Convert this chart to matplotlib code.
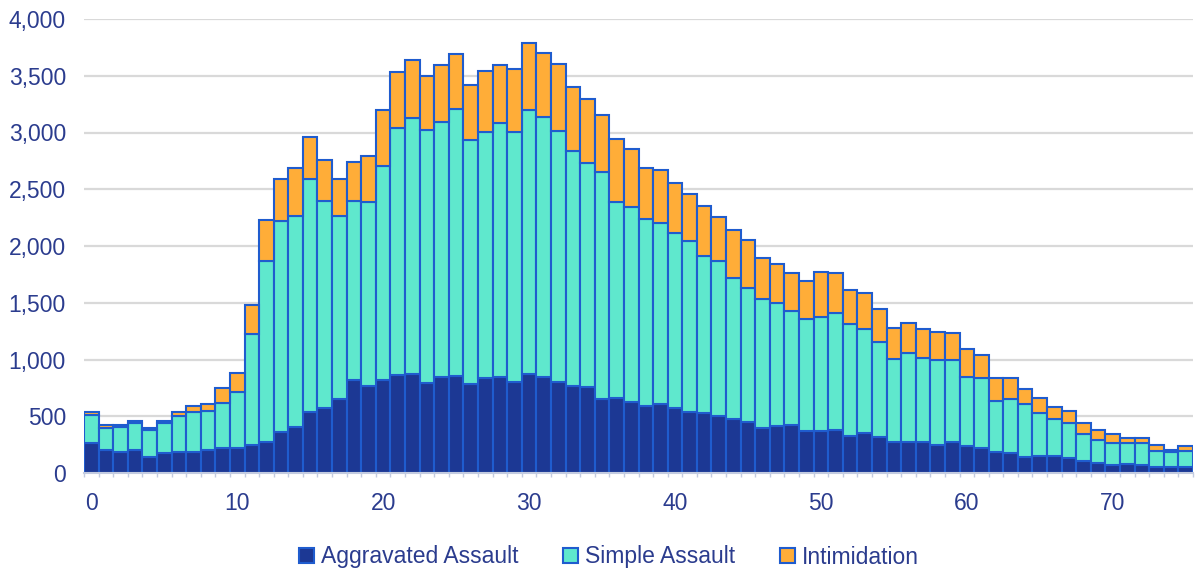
import matplotlib
matplotlib.use("Agg")
import matplotlib.pyplot as plt
from matplotlib.ticker import FuncFormatter, MultipleLocator
from matplotlib.patches import Patch
import numpy as np

ages = list(range(0, 76))

aggravated = [267, 203, 188, 203, 144, 173, 188, 188, 203, 217,
              217, 247, 276, 358, 408, 540, 570, 655, 819, 769,
              822, 863, 869, 790, 848, 855, 784, 840, 848, 802,
              875, 848, 805, 769, 760, 649, 658, 628, 590, 605,
              570, 535, 526, 505, 476, 446, 399, 414, 423, 373,
              373, 379, 329, 349, 320, 276, 270, 270, 247, 276,
              238, 217, 188, 173, 144, 153, 153, 129, 109, 85,
              70, 76, 70, 56, 50, 50]

simple = [244, 193, 220, 234, 235, 264, 314, 352, 346, 402,
          499, 978, 1592, 1865, 1856, 2047, 1829, 1609, 1577, 1621,
          1886, 2179, 2261, 2232, 2247, 2349, 2150, 2167, 2238, 2202,
          2323, 2291, 2211, 2068, 1968, 2005, 1732, 1718, 1648, 1595,
          1542, 1509, 1386, 1363, 1245, 1181, 1134, 1081, 1004, 981,
          1004, 1033, 984, 920, 831, 728, 785, 740, 749, 720,
          610, 617, 449, 482, 461, 378, 323, 314, 232, 206,
          197, 185, 191, 138, 132, 144]

intimidation = [26, 30, 12, 21, 20, 24, 35, 50, 59, 127,
                168, 258, 361, 367, 420, 370, 356, 329, 341, 403,
                490, 494, 509, 473, 500, 490, 484, 538, 506, 555,
                593, 564, 587, 561, 564, 500, 553, 506, 446, 470,
                443, 411, 440, 390, 420, 426, 364, 346, 332, 340,
                397, 353, 299, 320, 291, 271, 269, 256, 244, 235,
                242, 206, 197, 179, 132, 133, 108, 103, 97, 85,
                77, 50, 44, 53, 21, 44]

series_names = ["Aggravated Assault", "Simple Assault", "Intimidation"]
colors = ["#1c3894", "#5fe8cd", "#ffad38"]
edge = "#1f5cce"
text_color = "#2b3c8e"

plt.rcParams['font.family'] = ['Liberation Sans', 'DejaVu Sans']

fig = plt.figure(figsize=(11.96, 5.69), dpi=100)
ax = fig.add_axes([84 / 1196, 1 - 473 / 569, (1193 - 84) / 1196, (473 - 19) / 569])

x = np.array(ages)
a = np.array(aggravated)
s = np.array(simple)
i = np.array(intimidation)

ax.bar(x, a, width=1.0, color=colors[0], edgecolor=edge, linewidth=1.5, zorder=3)
ax.bar(x, s, width=1.0, bottom=a, color=colors[1], edgecolor=edge, linewidth=1.5, zorder=3)
ax.bar(x, i, width=1.0, bottom=a + s, color=colors[2], edgecolor=edge, linewidth=1.5, zorder=3)

ax.set_xlim(-0.5, 75.5)
ax.set_ylim(0, 4000)
ax.yaxis.set_major_locator(MultipleLocator(500))
ax.yaxis.set_major_formatter(FuncFormatter(lambda v, p: f"{int(v):,}"))
ax.xaxis.set_major_locator(MultipleLocator(10))
ax.set_xticks(np.arange(-0.5, 76, 1.0), minor=True)

ax.grid(axis='y', color='#d9d9d9', linewidth=1.6, zorder=0)
ax.set_axisbelow(True)

for sp in ['top', 'right', 'left']:
    ax.spines[sp].set_visible(False)
ax.spines['bottom'].set_color('#c3cbe0')
ax.spines['bottom'].set_linewidth(1.5)
ax.spines['bottom'].set_zorder(4)

ax.tick_params(axis='y', length=0, pad=13, labelsize=16.5, labelcolor=text_color)
ax.tick_params(axis='x', which='major', length=0, pad=14, labelsize=16.5, labelcolor=text_color)
ax.tick_params(axis='x', which='minor', length=3, width=1, color='#c3cbe0')

handles = [Patch(facecolor=c, edgecolor=edge, linewidth=1.5) for c in colors]
leg = fig.legend(handles, series_names, loc='center', bbox_to_anchor=(609 / 1196, 1 - 557 / 569),
                 ncol=3, frameon=False, fontsize=16.5, handlelength=0.65, handleheight=0.65,
                 handletextpad=0.3, columnspacing=1.95, borderaxespad=0)
for t in leg.get_texts():
    t.set_color(text_color)

fig.savefig("out.png", dpi=100)
